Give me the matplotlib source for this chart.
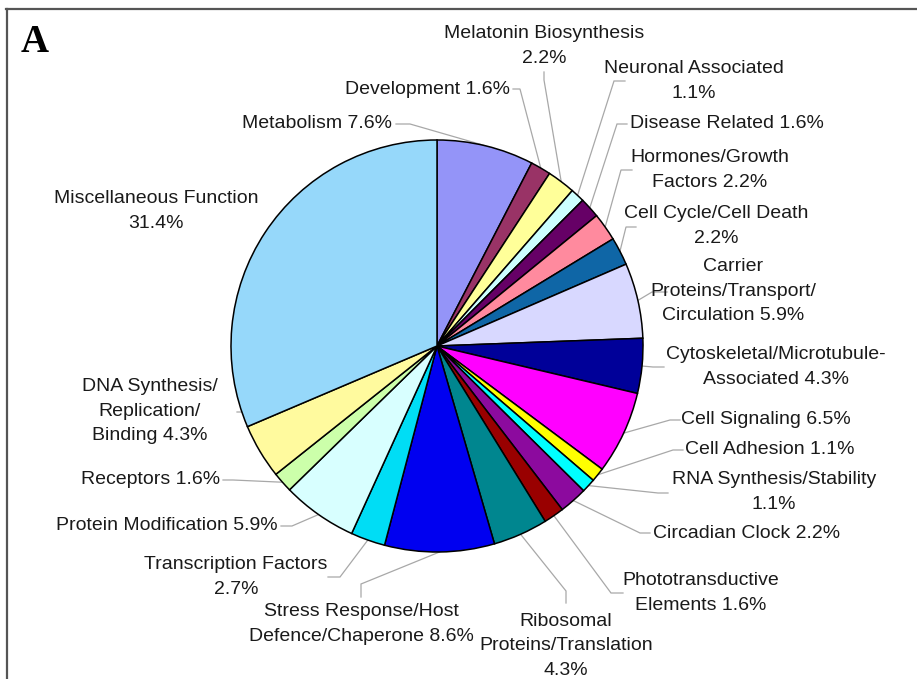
import matplotlib
matplotlib.use("Agg")
import matplotlib.pyplot as plt
import numpy as np

# ---------------- data ----------------
categories = [
    "Metabolism", "Development", "Melatonin Biosynthesis", "Neuronal Associated",
    "Disease Related", "Hormones/Growth Factors", "Cell Cycle/Cell Death",
    "Carrier Proteins/Transport/Circulation", "Cytoskeletal/Microtubule-Associated",
    "Cell Signaling", "Cell Adhesion", "RNA Synthesis/Stability", "Circadian Clock",
    "Phototransductive Elements", "Ribosomal Proteins/Translation",
    "Stress Response/Host Defence/Chaperone", "Transcription Factors",
    "Protein Modification", "Receptors", "DNA Synthesis/Replication/Binding",
    "Miscellaneous Function",
]
values = [7.6, 1.6, 2.2, 1.1, 1.6, 2.2, 2.2, 5.9, 4.3, 6.5, 1.1, 1.1, 2.2, 1.6,
          4.3, 8.6, 2.7, 5.9, 1.6, 4.3, 31.4]
label_formats = [
    "Metabolism {}%", "Development {}%", "Melatonin Biosynthesis\n{}%",
    "Neuronal Associated\n{}%", "Disease Related {}%", "Hormones/Growth\nFactors {}%",
    "Cell Cycle/Cell Death\n{}%", "Carrier\nProteins/Transport/\nCirculation {}%",
    "Cytoskeletal/Microtubule-\nAssociated {}%", "Cell Signaling {}%",
    "Cell Adhesion {}%", "RNA Synthesis/Stability\n{}%", "Circadian Clock {}%",
    "Phototransductive\nElements {}%", "Ribosomal\nProteins/Translation\n{}%",
    "Stress Response/Host\nDefence/Chaperone {}%", "Transcription Factors\n{}%",
    "Protein Modification {}%", "Receptors {}%", "DNA Synthesis/\nReplication/\nBinding {}%",
    "Miscellaneous Function\n{}%",
]

# ---------------- styles ----------------
colors = ["#9494F8", "#993366", "#FFFF99", "#CCFFFF", "#660066", "#FF8A9E",
          "#0F66A6", "#D8D8FF", "#000099", "#FF00FF", "#FFFF00", "#00FFFF",
          "#8C0A9E", "#990000", "#00868F", "#0000F0", "#00DDF5", "#D8FFFF",
          "#CCFFAA", "#FFFA9E", "#96D8FA"]

# label layout in pixel coords: (x, y, ha)
label_pos = [
    (392, 124, "right"), (510, 89, "right"), (544, 46, "center"), (694, 81, "center"),
    (630, 124, "left"), (710, 170, "center"), (716, 226, "center"), (733, 291, "center"),
    (776, 367, "center"), (681, 420, "left"), (685, 450, "left"), (774, 492, "center"),
    (653, 533, "left"), (701, 593, "center"), (566, 646, "center"), (361, 624, "center"),
    (236, 577, "center"), (278, 525, "right"), (220, 480, "right"), (150, 411, "center"),
    (156, 211, "center"),
]
# leader anchor and elbow points (pixel coords); None = no leader
leader_pts = [
    ((396, 124), (410, 124)), ((513, 89), (520, 89)), ((544, 72), (544, 80)),
    ((625, 81), (614, 81)), ((627, 124), (617, 124)), ((632, 170), (621, 170)),
    ((636, 227), (626, 227)), ((667, 292), (652, 292)), ((664, 367), (653, 367)),
    ((680, 420), (670, 420)), ((683, 450), (673, 450)), ((668, 493), (658, 493)),
    ((650, 533), (640, 533)), ((623, 593), (611, 593)), ((566, 603), (566, 591)),
    ((361, 597), (361, 584)), ((328, 577), (340, 577)), ((281, 526), (292, 526)),
    ((223, 480), (233, 480)), ((237, 412), (249, 412)), None,
]

cx, cy, R = 437, 346, 206
W, H = 917, 679

fig = plt.figure(figsize=(W / 100, H / 100), dpi=100)
ax = fig.add_axes([0, 0, 1, 1])

wedges, _ = ax.pie(values, colors=colors, startangle=-90, counterclock=True,
                   center=(cx, cy), radius=R,
                   wedgeprops=dict(edgecolor="black", linewidth=1.1))
ax.set_xlim(0, W)
ax.set_ylim(H, 0)
ax.set_aspect("equal")
ax.axis("off")

total = sum(values)
cum = np.cumsum([0] + values[:-1])
font = "Liberation Sans"
for i, (v, fmt) in enumerate(zip(values, label_formats)):
    x, y, ha = label_pos[i]
    ax.text(x, y, fmt.format(v), ha=ha, va="center", multialignment="center",
            fontsize=14, family=font, color="#1a1a1a", linespacing=1.55)
    if leader_pts[i] is not None:
        theta = np.deg2rad(-90 + 360 * (cum[i] + v / 2) / total)
        ex, ey = cx + R * np.cos(theta), cy + R * np.sin(theta)
        (x0, y0), (x1, y1) = leader_pts[i]
        ax.plot([x0, x1, ex], [y0, y1, ey], color="#A8A8A8", lw=0.9,
                solid_joinstyle="miter", zorder=0.5)

ax.text(21, 43, "A", fontsize=28, family="Liberation Serif", fontweight="bold",
        ha="left", va="center", color="black")

# frame
ax.plot([6, W], [9, 9], color="#555555", lw=1.6, clip_on=False)
ax.plot([7, 7], [9, H], color="#555555", lw=1.6, clip_on=False)

fig.savefig("out.png", dpi=100)
